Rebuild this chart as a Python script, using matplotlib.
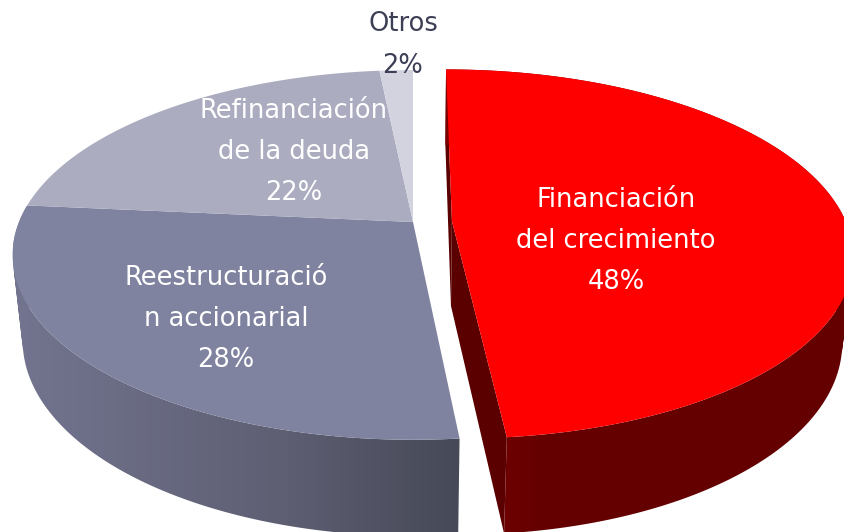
import numpy as np
import matplotlib
matplotlib.use('Agg')
import matplotlib.pyplot as plt
from matplotlib.path import Path
from matplotlib.patches import PathPatch
from matplotlib.colors import LinearSegmentedColormap

# 数据 (clockwise from 12 o'clock)
labels = ['Financiación\ndel crecimiento\n48%', 'Reestructuració\nn accionarial\n28%',
          'Refinanciación\nde la deuda\n22%', 'Otros\n2%']
values = [48.45, 28.05, 21.9, 1.6]
colors = ['#FF0000', '#8083A0', '#ABACBF', '#D2D3DE']
text_colors = ['white', 'white', 'white', '#3C3F55']
label_pos = [(616, 241), (226, 319), (294, 152), (403, 45)]
explode = [0.099, 0, 0, 0]

# 透视参数
cx, cy = 413, 222
R, S, T = 394, 179, 87
k, c = 0.178, 0.025


def project(x, y, z=0.0):
    w = 1 + k * y + c * z
    return cx + R * x / w, cy - (S * y - T * z) / w


def wall(ax, px, py, cols, stops):
    # 侧面渐变: one quad per arc step, all wound the same way
    tx, ty = project(px, py, 0)
    bx, by = project(px, py, 1)
    quads = []
    for j in range(len(px) - 1):
        q = np.array([[tx[j], ty[j]], [tx[j + 1], ty[j + 1]],
                      [bx[j + 1], by[j + 1]], [bx[j], by[j]], [tx[j], ty[j]]])
        area = np.sum(q[:-1, 0] * q[1:, 1] - q[1:, 0] * q[:-1, 1])
        if area < 0:
            q = q[::-1]
        quads.append(Path(q, closed=True))
    cmap = LinearSegmentedColormap.from_list('g', list(zip(stops, cols)))
    xs = np.r_[tx, bx]
    ys = np.r_[ty, by]
    im = ax.imshow(np.linspace(0, 1, 256).reshape(1, -1), cmap=cmap, aspect='auto',
                   extent=(xs.min(), xs.max(), ys.max(), ys.min()), zorder=1)
    patch = PathPatch(Path.make_compound_path(*quads), transform=ax.transData,
                      fc='none', ec='none')
    ax.add_patch(patch)
    im.set_clip_path(patch)


plt.rcParams['font.family'] = ['DejaVu Sans']
fig = plt.figure(figsize=(8.45, 5.32), dpi=100)
ax = fig.add_axes([0, 0, 1, 1])

ends = np.cumsum(values) / sum(values) * 2 * np.pi
starts = np.concatenate([[0], ends[:-1]])

for i, (a, b) in enumerate(zip(starts, ends)):
    mid = (a + b) / 2
    ox, oy = explode[i] * np.sin(mid), explode[i] * np.cos(mid)
    t = np.linspace(a, b, 200)
    px, py = ox + np.sin(t), oy + np.cos(t)

    if i == 0:
        # 扇形切面
        for ang in (a, b):
            fx, fy = project(np.array([ox, ox + np.sin(ang), ox + np.sin(ang), ox]),
                             np.array([oy, oy + np.cos(ang), oy + np.cos(ang), oy]),
                             np.array([0, 0, 1, 1]))
            ax.fill(fx, fy, color='#5A0000', lw=0, zorder=1)
        wall(ax, px, py, ['#7A0000', '#640000', '#640000'], [0, 0.25, 1])
    elif i == 1:
        wall(ax, px, py, ['#737590', '#5E5F73', '#464957'], [0, 0.6, 1])

    # 顶面
    sx, sy = project(np.r_[ox, px], np.r_[oy, py], 0)
    ax.fill(sx, sy, color=colors[i], lw=0, zorder=2)

for text, pos, col in zip(labels, label_pos, text_colors):
    ax.text(pos[0], pos[1], text, color=col, fontsize=18.5, ha='center', va='center',
            linespacing=1.77, zorder=3)

ax.set_xlim(0, 845)
ax.set_ylim(532, 0)
ax.axis('off')
fig.savefig('out.png', dpi=100)
